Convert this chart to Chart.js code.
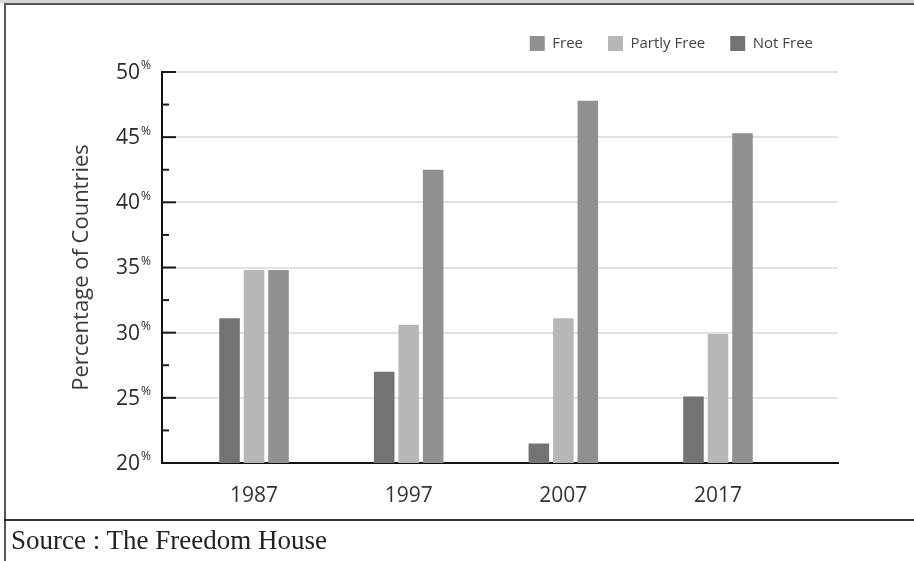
<!DOCTYPE html>
<html>
<head>
<meta charset="utf-8">
<script src="https://cdn.jsdelivr.net/npm/chart.js@4/dist/chart.umd.min.js"></script>
<style>
  html, body { margin: 0; padding: 0; background: #fff; }
  #wrap { position: relative; width: 914px; height: 561px; overflow: hidden; background: #fff; }
  canvas { position: absolute; left: 0; top: 0; }
  .topband { position: absolute; left: 0; top: 0; width: 914px; height: 3px; background: #d6d6d6; }
  .topline { position: absolute; left: 4px; top: 3px; width: 910px; height: 2px; background: #555; }
  .leftline { position: absolute; left: 4px; top: 3px; width: 2px; height: 558px; background: #555; }
  .sepline { position: absolute; left: 4px; top: 519px; width: 910px; height: 2px; background: #333; }
  .source { position: absolute; left: 11px; top: 521px; font-family: "Liberation Serif", serif; font-size: 27px; color: #222; line-height: 38px; }
</style>
</head>
<body>
<div id="wrap">
  <canvas id="c" width="914" height="561"></canvas>
  <div class="topband"></div>
  <div class="topline"></div>
  <div class="leftline"></div>
  <div class="sepline"></div>
  <div class="source">Source : The Freedom House</div>
</div>
<script>
const years = ['1987', '1997', '2007', '2017'];
const notFree = [31.1, 27.0, 21.5, 25.1];
const partlyFree = [34.8, 30.6, 31.1, 29.9];
const free = [34.8, 42.5, 47.8, 45.3];
const yTicks = [20, 25, 30, 35, 40, 45, 50];

const toPoints = arr => arr.map((v, i) => ({ x: i, y: v }));

const legendSpace = {
  id: 'legendSpace',
  beforeInit(chart) {
    const lg = chart.legend;
    if (!lg) return;
    const fit = lg.fit;
    lg.fit = function () { fit.call(lg); lg.height += 11; };
  }
};

const yDecor = {
  id: 'yDecor',
  afterDraw(chart) {
    const ctx = chart.ctx, ys = chart.scales.y, left = chart.chartArea.left;
    ctx.save();
    ys.ticks.forEach(t => {
      const py = ys.getPixelForValue(t.value);
      const major = Math.abs(t.value % 5) < 1e-6;
      if (t.value > ys.min) {
        ctx.strokeStyle = '#1a1a1a';
        ctx.lineWidth = 2;
        ctx.beginPath();
        ctx.moveTo(left, py);
        ctx.lineTo(left + (major ? 14 : 7), py);
        ctx.stroke();
      }
      if (major && yTicks.includes(t.value)) {
        ctx.fillStyle = '#2a2a2a';
        ctx.font = '21px "Open Sans"';
        ctx.textAlign = 'right';
        ctx.textBaseline = 'middle';
        ctx.fillText(String(t.value), left - 22, py + 1);
        ctx.font = '12px "Open Sans"';
        ctx.textAlign = 'left';
        ctx.fillText('%', left - 21, py - 6);
      }
    });
    ctx.restore();
  }
};

new Chart(document.getElementById('c'), {
  type: 'bar',
  data: {
    datasets: [
      { label: 'Not Free', data: toPoints(notFree), backgroundColor: '#727377' },
      { label: 'Partly Free', data: toPoints(partlyFree), backgroundColor: '#b6b7ba' },
      { label: 'Free', data: toPoints(free), backgroundColor: '#8f9094' }
    ]
  },
  options: {
    responsive: false,
    animation: false,
    devicePixelRatio: 1,
    layout: { padding: { top: 11, left: 0, right: 76, bottom: 0 } },
    datasets: { bar: { categoryPercentage: 0.475, barPercentage: 0.84 } },
    plugins: {
      tooltip: { enabled: false },
      legend: {
        position: 'top',
        align: 'end',
        reverse: true,
        labels: {
          boxWidth: 15,
          boxHeight: 15,
          padding: 25,
          color: '#444',
          font: { family: '"Open Sans"', size: 15 }
        }
      }
    },
    scales: {
      x: {
        type: 'linear',
        offset: false,
        min: -0.595,
        max: 3.776,
        afterBuildTicks(scale) { scale.ticks = years.map((_, i) => ({ value: i })); },
        afterFit(scale) { scale.height = 98; },
        grid: { display: false, drawTicks: false, offset: false },
        border: { display: true, color: '#111', width: 2 },
        ticks: {
          padding: 20,
          color: '#333',
          font: { family: '"Open Sans"', size: 21 },
          callback: v => years[v] ?? ''
        }
      },
      y: {
        min: 20,
        max: 50,
        afterFit(scale) { scale.width = 162; },
        ticks: { stepSize: 2.5, display: false },
        grid: {
          drawTicks: false,
          color: c => (c.tick && c.tick.value > 20 && Math.abs(c.tick.value % 5) < 1e-6) ? '#e2e2e2' : 'rgba(0,0,0,0)',
          lineWidth: 2
        },
        border: { display: true, color: '#111', width: 2 },
        title: {
          display: true,
          text: 'Percentage of Countries',
          color: '#3a3a3a',
          font: { family: '"Open Sans"', size: 22 },
          padding: { top: 69, bottom: 0 }
        }
      }
    }
  },
  plugins: [legendSpace, yDecor]
});
</script>
</body>
</html>
